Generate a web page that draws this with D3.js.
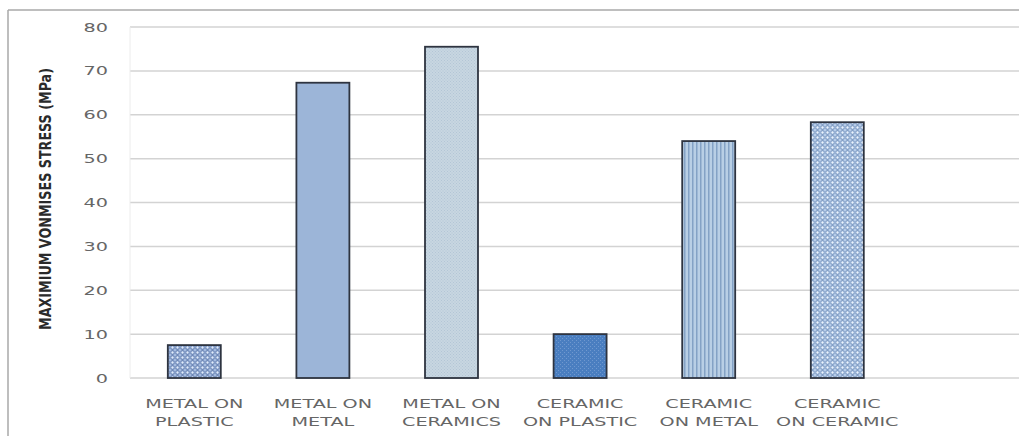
<!DOCTYPE html>
<html>
<head>
<meta charset="utf-8">
<script src="https://cdn.jsdelivr.net/npm/d3@7"></script>
<style>
  html, body { margin: 0; padding: 0; background: #fff; }
  svg { display: block; }
</style>
</head>
<body>
<svg id="chart" width="1019" height="436"></svg>
<script>
// Maximum von Mises stress per bearing couple
const categories = [
  ["METAL ON", "PLASTIC"],
  ["METAL ON", "METAL"],
  ["METAL ON", "CERAMICS"],
  ["CERAMIC", "ON PLASTIC"],
  ["CERAMIC", "ON METAL"],
  ["CERAMIC", "ON CERAMIC"]
];
const stress = [7.5, 67.3, 75.5, 10.0, 54.0, 58.3];
const yTicks = [0, 10, 20, 30, 40, 50, 60, 70, 80];
const yTitle = "MAXIMIUM VONMISES STRESS (MPa)";
const fills = ["url(#hatchMP)", "#9cb5d8", "url(#dotMC)", "url(#dotCP)", "url(#stripeCM)", "url(#hatchCC)"];

const svg = d3.select("#chart");
const plot = { left: 130, right: 1019, top: 27, bottom: 378 };
const step = 128.6;
const sx = 1.6; // horizontal text stretch

const x = d3.scaleBand()
  .domain(d3.range(categories.length))
  .range([plot.left, plot.left + step * categories.length])
  .paddingInner(0.588).paddingOuter(0.294);
const y = d3.scaleLinear().domain([0, 80]).range([plot.bottom, plot.top]);

// fill patterns
const defs = svg.append("defs");
function hatch(id, base, dark, light) {
  const p = defs.append("pattern").attr("id", id).attr("patternUnits", "userSpaceOnUse")
    .attr("width", 5).attr("height", 5);
  p.append("rect").attr("width", 5).attr("height", 5).attr("fill", base);
  p.append("path").attr("d", "M0,2.5 L2.5,0 L5,2.5 L2.5,5 Z").attr("fill", "none")
    .attr("stroke", dark).attr("stroke-width", 1);
  p.append("circle").attr("cx", 2.5).attr("cy", 2.5).attr("r", 0.9).attr("fill", light);
}
hatch("hatchMP", "#a3badf", "#5f79aa", "#e3ebf7");
hatch("hatchCC", "#b6cce9", "#7390ba", "#eef3fa");

function dots(id, base, dot, size) {
  const p = defs.append("pattern").attr("id", id).attr("patternUnits", "userSpaceOnUse")
    .attr("width", size).attr("height", size);
  p.append("rect").attr("width", size).attr("height", size).attr("fill", base);
  p.append("rect").attr("x", 0).attr("y", 0).attr("width", 1).attr("height", 1).attr("fill", dot);
  p.append("rect").attr("x", size / 2).attr("y", size / 2).attr("width", 1).attr("height", 1).attr("fill", dot);
}
dots("dotMC", "#c8d6e1", "#b3c6d6", 3);
dots("dotCP", "#4a7ec0", "#6f98cf", 4);

const sp = defs.append("pattern").attr("id", "stripeCM").attr("patternUnits", "userSpaceOnUse")
  .attr("width", 4).attr("height", 4);
sp.append("rect").attr("width", 4).attr("height", 4).attr("fill", "#b9cfe5");
sp.append("rect").attr("x", 0).attr("width", 1.5).attr("height", 4).attr("fill", "#84a2c5");

// outer frame
svg.append("line").attr("x1", 8).attr("x2", 1019).attr("y1", 10).attr("y2", 10)
  .attr("stroke", "#a8a8a8").attr("stroke-width", 1.5);
svg.append("line").attr("x1", 8).attr("x2", 8).attr("y1", 10).attr("y2", 436)
  .attr("stroke", "#a8a8a8").attr("stroke-width", 1.5);

// gridlines
svg.append("g").selectAll("line").data(yTicks).join("line")
  .attr("x1", plot.left).attr("x2", plot.right)
  .attr("y1", d => y(d)).attr("y2", d => y(d))
  .attr("stroke", "#d3d3d3").attr("stroke-width", 1.5);
svg.append("line").attr("x1", plot.left).attr("x2", plot.left)
  .attr("y1", y(80)).attr("y2", y(0)).attr("stroke", "#ececec").attr("stroke-width", 1);

// y tick labels
svg.append("g").selectAll("text").data(yTicks).join("text")
  .attr("transform", d => `translate(108,${y(d) + 4.5}) scale(${sx},1)`)
  .attr("text-anchor", "end")
  .attr("font-family", "DejaVu Sans, sans-serif").attr("font-size", 12)
  .attr("fill", "#666666")
  .text(d => d);

// axis title
svg.append("text")
  .attr("transform", `translate(51,199) scale(${sx},1) rotate(-90)`)
  .attr("text-anchor", "middle")
  .attr("font-family", "Liberation Sans Narrow, DejaVu Sans Condensed, sans-serif")
  .attr("font-size", 10).attr("font-weight", "bold").attr("fill", "#2a2a2a")
  .attr("textLength", 262).attr("lengthAdjust", "spacingAndGlyphs")
  .text(yTitle);

// bars
svg.append("g").selectAll("rect").data(stress).join("rect")
  .attr("x", (d, i) => x(i))
  .attr("y", d => y(d))
  .attr("width", x.bandwidth())
  .attr("height", d => y(0) - y(d))
  .attr("fill", (d, i) => fills[i])
  .attr("stroke", "#2e3440").attr("stroke-width", 1.8);

// category labels
const lab = svg.append("g").selectAll("g").data(categories).join("g");
[408, 426].forEach((yy, k) => {
  lab.append("text")
    .attr("transform", (d, i) => `translate(${x(i) + x.bandwidth() / 2},${yy}) scale(${sx},1)`)
    .attr("text-anchor", "middle")
    .attr("font-family", "DejaVu Sans, sans-serif").attr("font-size", 12)
    .attr("fill", "#666666")
    .text(d => d[k]);
});
</script>
</body>
</html>
